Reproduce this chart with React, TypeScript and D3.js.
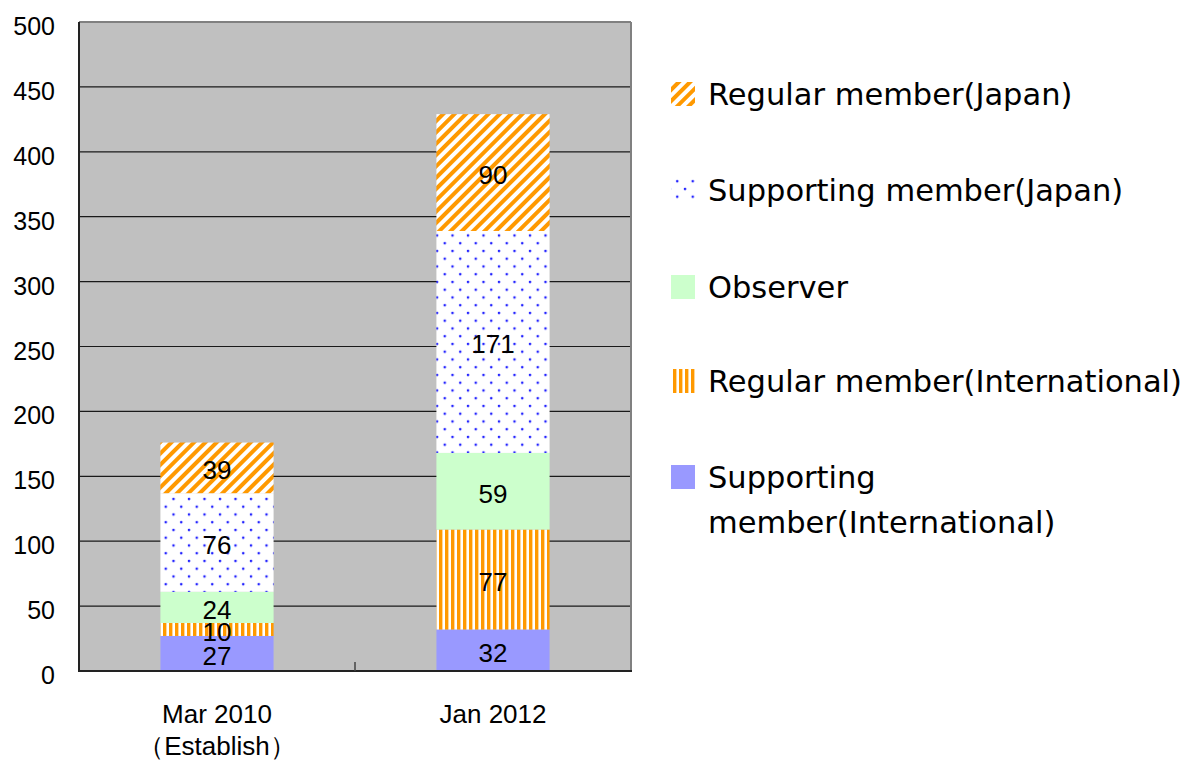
import React from 'react';
import * as d3 from 'd3';

// chart size
const W = 1195;
const H = 760;
const margin = { top: 22, left: 79, right: 1195 - 631, bottom: 760 - 671 };

// data
const categories = ['Mar 2010', 'Jan 2012'];
const categorySubLabels = ['（Establish）', ''];
const seriesNames = [
  'Supporting member(International)',
  'Regular member(International)',
  'Observer',
  'Supporting member(Japan)',
  'Regular member(Japan)',
];
const supportingIntl = [27, 32];
const regularIntl = [10, 77];
const observer = [24, 59];
const supportingJapan = [76, 171];
const regularJapan = [39, 90];
const yTicks = [0, 50, 100, 150, 200, 250, 300, 350, 400, 450, 500];

const seriesValues = [supportingIntl, regularIntl, observer, supportingJapan, regularJapan];
const fills = ['#9999FF', 'url(#vstripe)', '#CCFFCC', 'url(#dots)', 'url(#diag)'];

const FONT = '"DejaVu Sans", sans-serif';
const NUMFONT = '"Liberation Sans", Arial, sans-serif';

export default function App() {
  const x = d3
    .scaleBand<string>()
    .domain(categories)
    .range([margin.left, W - margin.right])
    .paddingInner(0.59)
    .paddingOuter(0.295);
  const y = d3.scaleLinear().domain([0, 500]).range([H - margin.bottom, margin.top]);

  const table = categories.map((c, i) => {
    const row: Record<string, any> = { cat: c };
    seriesNames.forEach((s, k) => (row[s] = seriesValues[k][i]));
    return row;
  });
  const stacked = d3.stack<any>().keys(seriesNames)(table);

  const plotL = margin.left;
  const plotR = W - margin.right;
  const plotT = margin.top;
  const plotB = H - margin.bottom;
  const midTick = (plotL + plotR) / 2;

  // legend, top to bottom = reverse stacking order
  const legendItems = seriesNames.map((name, k) => ({ name, fill: fills[k] })).reverse();
  const legendY = [94, 190, 287, 381, 477];

  return (
    <svg width={W} height={H} style={{ position: 'absolute', left: 0, top: 0 }} fontFamily={FONT}>
      <defs>
        <pattern id="diag" width={8} height={8} patternUnits="userSpaceOnUse" patternTransform="rotate(45)">
          <rect width={8} height={8} fill="#fff" />
          <rect width={4} height={8} fill="#FF9900" />
        </pattern>
        <pattern id="vstripe" width={6} height={6} patternUnits="userSpaceOnUse">
          <rect width={6} height={6} fill="#fff" />
          <rect x={1} width={3.4} height={6} fill="#FF9900" />
        </pattern>
        <pattern id="dots" width={15.5} height={15.5} patternUnits="userSpaceOnUse">
          <rect width={15.5} height={15.5} fill="#fff" />
          <circle cx={3} cy={3} r={1.3} fill="#2222FF" />
          <circle cx={10.75} cy={10.75} r={1.3} fill="#2222FF" />
        </pattern>
      </defs>
      <rect width={W} height={H} fill="#fff" />

      {/* plot area */}
      <rect x={plotL} y={plotT} width={plotR - plotL} height={plotB - plotT} fill="#C0C0C0" />
      {yTicks.slice(1, -1).map((t) => (
        <line key={t} x1={plotL} x2={plotR} y1={y(t)} y2={y(t)} stroke="#1a1a1a" strokeWidth={1.2} />
      ))}
      <line x1={plotL} x2={plotR} y1={plotT} y2={plotT} stroke="#808080" strokeWidth={2} />
      <line x1={plotR} x2={plotR} y1={plotT} y2={plotB} stroke="#808080" strokeWidth={2} />

      {/* bars */}
      {stacked.map((layer, k) => (
        <g key={layer.key}>
          {layer.map((d, i) => (
            <rect
              key={i}
              x={x(categories[i])}
              width={x.bandwidth()}
              y={y(d[1])}
              height={y(d[0]) - y(d[1])}
              fill={fills[k]}
            />
          ))}
        </g>
      ))}
      {stacked.map((layer) =>
        layer.map((d, i) => (
          <text
            key={layer.key + i}
            x={(x(categories[i]) as number) + x.bandwidth() / 2}
            y={(y(d[0]) + y(d[1])) / 2 + 2}
            dy="0.36em"
            textAnchor="middle"
            fontFamily={NUMFONT}
            fontSize={26}
            fill="#000"
          >
            {d[1] - d[0]}
          </text>
        ))
      )}

      {/* axes */}
      <line x1={plotL} x2={plotL} y1={plotT} y2={plotB + 1} stroke="#222" strokeWidth={2} />
      <line x1={plotL} x2={plotR + 1} y1={plotB} y2={plotB} stroke="#222" strokeWidth={2} />
      <line x1={midTick} x2={midTick} y1={plotB} y2={plotB - 9} stroke="#444" strokeWidth={1.5} />
      {yTicks.map((t) => (
        <text key={t} x={55} y={y(t) + 4} dy="0.36em" textAnchor="end" fontFamily={NUMFONT} fontSize={25}>
          {t}
        </text>
      ))}
      {categories.map((c, i) => (
        <text key={c} x={(x(c) as number) + x.bandwidth() / 2} textAnchor="middle" fontFamily={NUMFONT} fontSize={26}>
          <tspan x={(x(c) as number) + x.bandwidth() / 2} y={723}>
            {c}
          </tspan>
          {categorySubLabels[i] && (
            <tspan x={(x(c) as number) + x.bandwidth() / 2} y={755}>
              {categorySubLabels[i]}
            </tspan>
          )}
        </text>
      ))}

      {/* legend */}
      {legendItems.map((item, i) => {
        const cy = legendY[i];
        const lines =
          item.name === 'Supporting member(International)'
            ? ['Supporting', 'member(International)']
            : [item.name];
        return (
          <g key={item.name}>
            <rect x={671} y={cy - 12} width={24} height={24} fill={item.fill} />
            <text fontSize={30.5} fill="#000">
              {lines.map((l, j) => (
                <tspan key={j} x={708} y={cy + 11 + j * 45}>
                  {l}
                </tspan>
              ))}
            </text>
          </g>
        );
      })}
    </svg>
  );
}
